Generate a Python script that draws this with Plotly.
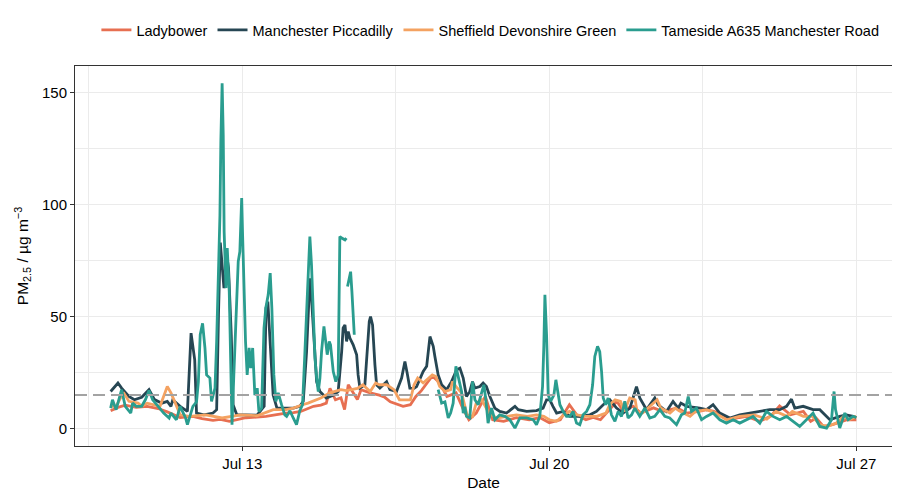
import pandas as pd
import plotly.graph_objects as go

# ---- data: hours since 2021-07-10 00:00 and PM2.5 (ug m-3) ----
lady_h = [0, 4, 8, 14, 20, 26, 31, 34, 38, 45, 50, 56, 60, 65, 70, 74, 80, 85, 90, 96, 100, 104, 108, 111,
          115, 118, 120, 123, 126, 128, 130, 133, 135, 137, 142, 147, 150, 153, 156, 160, 164, 167, 170, 173,
          176, 180, 184, 189, 193, 196, 200, 205, 209, 215, 222, 229, 235, 240, 246, 251, 255, 260, 264,
          268, 273, 277, 280, 286, 290, 297, 302, 310, 315, 322, 326, 330, 335, 339, 344, 348, 355, 361, 366,
          372, 379, 383, 386, 390, 395, 400, 403, 408]
lady_v = [8, 9.5, 10.5, 9.5, 10, 9, 7.5, 6.5, 5, 5.5, 4.5, 3.7, 4.2, 3.3, 4, 4.9, 5.2, 5.5, 6.2, 7, 7.2, 7.7, 9, 10,
          10.5, 11.4, 18, 12.9, 13.8, 8.5, 19.6, 16, 13, 17.4, 16, 15, 14, 12, 11, 10, 10.7, 14.4, 17, 20.5,
          23.5, 20.5, 14.4, 16, 8.5, 4, 7, 14.4, 4, 3.3, 4.9, 4, 4.9, 2.7, 4, 10.7, 6.2, 4, 5,
          4, 8.5, 12.2, 8.5, 10, 7, 9.3, 7.7, 9.3, 7, 7.7, 8.5, 7.7, 6, 4, 5, 5.5, 3.3, 5.5, 10.2,
          6.2, 7.7, 3.3, 4.8, 1, 1.8, 3, 4, 4]

mp_h = [0, 4, 6, 10, 13, 17, 21, 22, 24, 28, 31, 33, 34, 38, 42, 44, 46, 47, 51, 56, 58, 59, 60, 62, 64, 64.5,
        66, 67, 69, 74, 80, 84, 85, 86, 88.9, 91, 96, 100, 103.5, 105.4, 107.2, 108.1, 109, 109.9, 110.8,
        111.8, 112.7, 114.5, 118, 122, 124.5, 126.4, 127.2, 128.2, 129.1, 130, 130.9, 132.7, 134.6, 135.4,
        136.4, 139.1, 140.4, 141.5, 142.2, 143.3, 144.6, 145.5, 147.3, 151, 152.8, 156.4, 159.2, 161, 162.2,
        163.7, 166, 167.4, 171, 172.9, 174.7, 176.5, 177.4, 179.2, 181.1, 183.8, 186.5, 189.3, 191.1, 192.9,
        194.7, 196.5, 198, 199.3, 202, 203.8, 205.6, 207.5, 210.2, 212.9, 216.6, 221.2, 223, 227.6, 233,
        236.6, 238.5, 240.3, 242, 244, 247.6, 251.3, 256.7, 262.2, 265.8, 269.5, 273.1, 276.8, 280.4, 284.1,
        287.7, 289.5, 293.2, 297.7, 299.5, 304.1, 307.7, 310.5, 312, 315.1, 322.3, 326, 329.6, 333.3, 338.8,
        344.2, 349.7, 355.2, 360.6, 366.1, 369.8, 372.5, 374.3, 378.9, 384.3, 388, 393.5, 398.9, 402.6,
        406.2, 408]
mp_v = [16.6, 20.4, 18.1, 14.4, 12.9, 14, 17.4, 16, 13, 11.4, 12.2, 10, 12.9, 10, 7.7, 42.6, 30.7, 7, 6.2, 7,
        8.5, 50.8, 83, 62.7, 74.5, 71.6, 41.9, 10.7, 6.2, 6.2, 6, 10, 53.8, 56.7, 15, 9.2, 9.2, 9.2, 10, 12.2,
        34.4, 50.8, 67, 58.2, 46.3, 31.5, 21, 16.6, 13.7, 15, 16.6, 34.4, 44.9, 46.3, 38.9, 43.3, 40.4, 37.4,
        33, 24, 18.1, 19.6, 34.4, 47.8, 50, 46.3, 28.5, 19.6, 18.1, 21, 17.4, 16.6, 22.6, 30, 25, 18.1, 18,
        18.8, 25.5, 27.8, 41.1, 36.7, 32.2, 24, 19.6, 17.4, 21, 26.3, 27, 22.6, 14.4, 16.6, 21, 18.1, 18.8,
        20.4, 18.8, 14.4, 9.2, 7.7, 7, 10, 8.5, 7.7, 8.1, 9.2, 12.9, 12.9, 10, 7, 7.7, 5.5, 5.5, 6.2, 7.7,
        10.7, 12.9, 9.2, 7, 9.2, 18.8, 13.7, 8.5, 13.7, 10.7, 7.7, 12.2, 9.2, 11.4, 10, 9.2, 8.5, 10.7, 7,
        4.8, 6.2, 7, 7.7, 8.5, 8.5, 10, 13.2, 9.2, 10, 8.5, 8.5, 4, 5.5, 6.2, 5.5, 5]

sdg_h = [0, 3, 7, 10, 15, 17, 20, 27, 31, 33, 35, 38, 43, 52, 61, 71, 80, 89, 96, 100, 105, 108, 115, 120,
         126, 129, 135, 138, 142, 145, 147, 151, 155, 158, 164, 166, 168, 169, 171, 176, 178, 180, 183, 186,
         187, 189, 192, 195, 198, 200, 203, 207, 211, 217, 222, 228, 233, 237, 240, 244, 248, 251, 255, 260,
         266, 271, 273, 276, 279, 281, 284, 287, 288, 291, 296, 299, 301, 306, 309, 311, 317, 320, 326, 330,
         337, 344, 352, 359, 364, 370, 373, 379, 384, 388, 392, 397, 401, 404, 408]
sdg_v = [10, 10, 16.2, 12.2, 11.4, 10, 11.4, 10, 18.8, 16, 12.2, 6.2, 5.5, 6.2, 4.8, 6.2, 5.8, 8.5, 8.5, 9.2,
         10.7, 11.4, 13.7, 16, 17.4, 17, 18, 19.6, 16.6, 20.4, 19.6, 19.6, 17.4, 12.9, 12.9, 19.6, 22.6, 21.8,
         20.4, 24, 23.3, 18.8, 16.6, 17.4, 21, 18.8, 16, 6.2, 5.5, 11.4, 12.9, 7, 4.8, 5.5, 6.2, 5.5, 6.2,
         5.5, 4, 3.3, 6.2, 7.7, 6.2, 5.5, 5.5, 7, 10.7, 12.9, 12.2, 7.7, 13.7, 12.9, 7.7, 7, 10.7, 12.9, 9.2,
         7, 9.2, 8, 5.5, 7.7, 8.5, 7.3, 4, 5.5, 6.2, 4.3, 7.7, 5.5, 7.7, 5.5, 5.5, 1.8, 1, 2.5, 5.5, 4, 5.5]

tam_h = [0, 1, 3, 5, 6, 8, 11, 12, 14, 17, 19, 21, 23, 26, 29, 32, 33, 36, 38, 41, 42, 45, 47, 48, 49, 50.3,
         51.6, 52.5, 54.3, 55.2, 57.1, 58, 58.9, 59.8, 60.3, 61, 61.6, 62.1, 63.1, 63.8, 64.9, 65.6, 66.4,
         67.4, 68.5, 69.8, 70.7, 71.7, 72.2, 72.9, 73.8, 74.7, 75.8, 76.6, 77.7, 78.9, 80.2, 81.1, 82.6, 83.9,
         84.9, 86.2, 87.3, 88.2, 89.3, 90.4, 91.7, 93.5, 95.3, 96.3, 98.1, 99.9, 101.7, 103.5, 105, 106.3,
         107.2, 108.1, 109, 109.9, 110.8, 111.8, 112.7, 113.6, 114.5, 115.4, 116.7, 117.6, 118.5, 119.6,
         120.3, 121.8, 123.2, 124.5, 125.4, 126.4, 128.2, 129, 129.3, 129.6, 130.5, 131.3, 132, 132.7, 133.3,
         150, 179.2, 181.1, 182.9, 184.7, 186, 187.4, 188.9, 190.2, 191.1, 192, 192.9, 193.8, 194.7, 196.5,
         198, 199.3, 201.1, 202.9, 204.2, 205.3, 206.5, 208.4, 210.2, 212.9, 215.7, 218.4, 221.2, 223.9,
         227.6, 231.2, 233, 234.8, 236.3, 237, 237.6, 238.5, 239.4, 240.7, 242.5, 243.6, 244.8, 245.8, 247.6,
         249.4, 251.3, 253, 254.9, 256.7, 258.5, 260.4, 262.2, 263.7, 264.9, 266.4, 267.6, 268.6, 269.5,
         270.9, 272.2, 274, 275.9, 277.7, 279.5, 281.3, 283.1, 285, 286.8, 289.5, 292.3, 295, 297.7, 300.5,
         303.2, 305.9, 309.6, 312.3, 314.1, 316, 317.8, 320.5, 323.3, 326, 329.6, 333.3, 336.9, 340.6, 344.2,
         347.9, 351.5, 355.2, 358.8, 362.4, 366.1, 369.8, 373.4, 377, 380.7, 384.3, 388, 391.7, 394.4, 395.3,
         395.8, 396.6, 397.5, 398.9, 401.7, 403.5, 406.2, 408]
tam_v = [9.2, 12.9, 8.5, 14.4, 17.4, 10, 7, 11.4, 10, 10, 12.9, 17, 12.9, 10, 7, 4.8, 7, 4, 10, 4.8, 1.8, 10,
         12, 21, 41.9, 47, 36, 24, 22.6, 12.2, 18.1, 38.9, 65.6, 95.3, 128, 154, 131, 87.9, 62.7, 80.5, 61,
         24, 1.8, 24, 46.3, 74.5, 79, 102.8, 86.4, 61.2, 38.9, 24, 36, 27, 36, 15, 18.1, 7.7, 9.2, 44.9, 53.8,
         59.7, 69.4, 53.8, 24, 12.2, 16, 10.7, 6.2, 5.5, 8, 4.8, 1.8, 8, 10.7, 34.4, 51.5, 61.2, 85.7, 73,
         56.7, 31.5, 22.6, 16.6, 22.6, 34.4, 45.6, 38.9, 33, 38.9, 37.4, 25.5, 21, 24, 85.7, 85, 84.2, 85,
         None, 63.4, 67.1, 70, 61.2, 47.8, 41.9, None, 17.4, 11.4, 12, 4.8, 7, 11.4, 27.8, 22.6, 18.8, 16.6,
         7, 9.8, 5.5, 4.8, 21, 12.9, 10.7, 16.6, 19.6, 12.9, 2.5, 9.2, 4, 6.2, 5.5, 4, 0.3, 4.8, 4.8, 4, 1.8,
         5.5, 18.8, 36.7, 59.7, 41.9, 15, 12.2, 15, 21.8, 16.6, 10.7, 7.7, 5.5, 5.5, 7.7, 2.5, 1.8, 6.2, 7.7,
         10.7, 19.6, 32.2, 36.7, 34.4, 25.5, 13.7, 10.7, 13.7, 6.2, 3.3, 7.7, 5.5, 12.2, 4.8, 6.2, 9.2, 5.5,
         9.2, 4.8, 5.5, 8.5, 5.5, 4.8, 1.8, 6.2, 7, 14.4, 7.7, 9.2, 4, 5.5, 7, 4, 2.5, 4, 2.5, 4, 5.5, 2.5,
         7.7, 5.5, 4, 5.5, 3.3, 1, 4, 7, 1, 0.3, 4, 11.4, 16.6, 8.5, 5.5, 0.3, 7, 4, 5.5, 5]

site_names = ["Ladybower", "Manchester Piccadilly", "Sheffield Devonshire Green", "Tameside A635 Manchester Road"]
site_colors = ["#E76F51", "#264653", "#F4A261", "#2A9D8F"]
guideline = 15
y_ticks = [0, 50, 100, 150]
y_minor = [25, 75, 125]
x_ticks = ["2021-07-13", "2021-07-20", "2021-07-27"]
x_tick_text = ["Jul 13", "Jul 20", "Jul 27"]
x_minor = ["2021-07-09 12:00", "2021-07-16 12:00", "2021-07-23 12:00"]

base = pd.Timestamp("2021-07-10 00:00")


def to_time(hours):
    return base + pd.to_timedelta(hours, unit="h")


series = [(lady_h, lady_v), (mp_h, mp_v), (sdg_h, sdg_v), (tam_h, tam_v)]

fig = go.Figure()
for (h, v), name, col in zip(series, site_names, site_colors):
    fig.add_trace(go.Scatter(x=to_time(h), y=v, mode="lines", name=name,
                             line=dict(color=col, width=2.8), connectgaps=False))

fig.add_hline(y=guideline, line=dict(color="#A3A3A3", width=2, dash="12px,6px"), layer="above")

grid = "#EBEBEB"
fig.update_layout(
    width=900, height=500,
    margin=dict(l=67, r=16, t=58, b=62, autoexpand=False),
    paper_bgcolor="white", plot_bgcolor="white",
    font=dict(family="Liberation Sans, Arial, sans-serif", color="#000000", size=15),
    legend=dict(orientation="h", xref="container", yref="container",
                x=0.536, xanchor="center", y=0.956, yanchor="middle",
                font=dict(size=14.5), itemwidth=30, tracegroupgap=0),
    showlegend=True,
)
fig.update_xaxes(
    range=["2021-07-09 04:30", "2021-07-27 19:30"],
    tickmode="array", tickvals=x_ticks, ticktext=x_tick_text,
    showgrid=True, gridcolor=grid, gridwidth=1,
    minor=dict(tickmode="array", tickvals=x_minor, showgrid=True, gridcolor=grid, gridwidth=0.6),
    showline=True, linecolor="#333333", linewidth=1, mirror=True,
    ticks="outside", ticklen=4, tickcolor="#333333",
    tickfont=dict(size=15, color="#000000"),
    title=dict(text="Date", font=dict(size=15.5), standoff=6),
    zeroline=False, automargin=False,
)
fig.update_yaxes(
    range=[-7.7, 161.7],
    tickmode="array", tickvals=y_ticks,
    showgrid=True, gridcolor=grid, gridwidth=1,
    minor=dict(tickmode="array", tickvals=y_minor, showgrid=True, gridcolor=grid, gridwidth=0.6),
    showline=True, linecolor="#333333", linewidth=1, mirror=True,
    ticks="outside", ticklen=4, tickcolor="#333333",
    tickfont=dict(size=15, color="#000000"),
    title=dict(text="PM<sub>2.5</sub> / µg m<sup>−3</sup>", font=dict(size=15.5), standoff=9),
    zeroline=False, automargin=False,
)

fig.write_html("out.html")
